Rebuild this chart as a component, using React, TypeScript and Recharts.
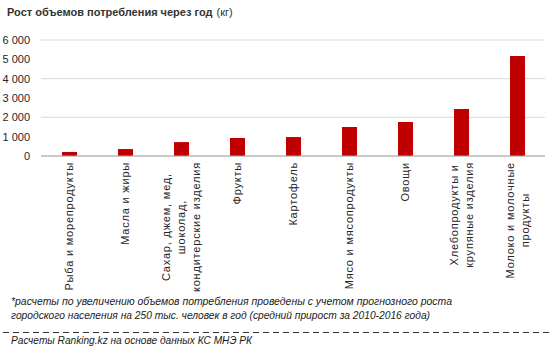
import React from 'react';
import { BarChart, Bar, XAxis, YAxis, CartesianGrid } from 'recharts';

const categories = [
  'Рыба и морепродукты',
  'Масла и жиры',
  'Сахар, джем, мед,\nшоколад,\nкондитерские изделия',
  'Фрукты',
  'Картофель',
  'Мясо и мясопродукты',
  'Овощи',
  'Хлебопродукты и\nкрупяные изделия',
  'Молоко и молочные\nпродукты',
];
const growthKg = [210, 360, 720, 930, 980, 1500, 1760, 2430, 5170];
const yTicks = [0, 1000, 2000, 3000, 4000, 5000, 6000];

const data = categories.map((name, i) => ({ name, value: growthKg[i] }));

const LABEL_SIZE = 11;
const LABEL_LS = 0.8;
let ctx: CanvasRenderingContext2D | null = null;
function textWidth(s: string) {
  if (!ctx) ctx = document.createElement('canvas').getContext('2d');
  if (!ctx) return s.length * 6;
  ctx.font = `${LABEL_SIZE}px "Liberation Sans"`;
  return ctx.measureText(s).width + s.length * LABEL_LS;
}

// rotated multi-line label, lines centred inside the block, block hangs from the axis
function CategoryTick({ x, y, payload }: any) {
  const lines: string[] = String(payload.value).split('\n');
  const maxW = Math.max(...lines.map(textWidth));
  const top = y - 2;
  const cy = top + maxW / 2;
  const lh = 15;
  const x0 = x - ((lines.length - 1) * lh) / 2;
  return (
    <g>
      {lines.map((l, i) => (
        <text key={i} transform={`translate(${x0 + i * lh},${cy}) rotate(-90)`} textAnchor="middle"
          dominantBaseline="central" fontSize={LABEL_SIZE} letterSpacing={LABEL_LS}
          fontFamily='"Liberation Sans", Arial' fill="#262626">{l}</text>
      ))}
    </g>
  );
}

const fmt = (v: number) => (v >= 1000 ? `${Math.floor(v / 1000)} ${String(v % 1000).padStart(3, '0')}` : String(v));

const ff = '"Liberation Sans", Arial';

export default function App() {
  return (
    <div style={{ position: 'absolute', left: 0, top: 0, width: 553, height: 354, background: '#fff', overflow: 'hidden' }}>
      <BarChart width={553} height={354} data={data} margin={{ top: 40, right: 8, bottom: 78, left: 0 }}>
        <CartesianGrid vertical={false} stroke="#d9d9d9" />
        <XAxis dataKey="name" interval={0} height={120} tickLine={false} axisLine={{ stroke: '#a6a6a6' }} tick={<CategoryTick />} />
        <YAxis width={41} domain={[0, 6000]} ticks={yTicks} tickFormatter={fmt} tickLine={false} axisLine={false} tickMargin={5}
          tick={{ fontSize: 11, fill: '#262626', fontFamily: ff }} />
        <Bar dataKey="value" fill="#c00000" barSize={15} isAnimationActive={false} />
      </BarChart>
      <svg width={553} height={354} style={{ position: 'absolute', left: 0, top: 0, pointerEvents: 'none' }}>
        <text x={7} y={16} fontSize={11} fontFamily={ff} fill="#333">
          <tspan fontWeight={700}>Рост объемов потребления через год</tspan>
          <tspan dx={4}>(кг)</tspan>
        </text>
        <g fontSize={11} fontStyle="italic" fontFamily={ff} fill="#1a1a1a">
          <text x={11} y={305} textLength={441} lengthAdjust="spacingAndGlyphs">
            *расчеты по увеличению объемов  потребления проведены с учетом прогнозного  роста
          </text>
          <text x={11} y={319} textLength={419} lengthAdjust="spacingAndGlyphs">
            городского населения на 250 тыс. человек в год (средний прирост за 2010-2016 года)
          </text>
          <text x={11} y={344} textLength={241} lengthAdjust="spacingAndGlyphs">
            Расчеты Ranking.kz на основе данных  КС МНЭ РК
          </text>
        </g>
        <line x1={3} x2={551} y1={332.5} y2={332.5} stroke="#333" strokeDasharray="6 4" />
      </svg>
    </div>
  );
}
